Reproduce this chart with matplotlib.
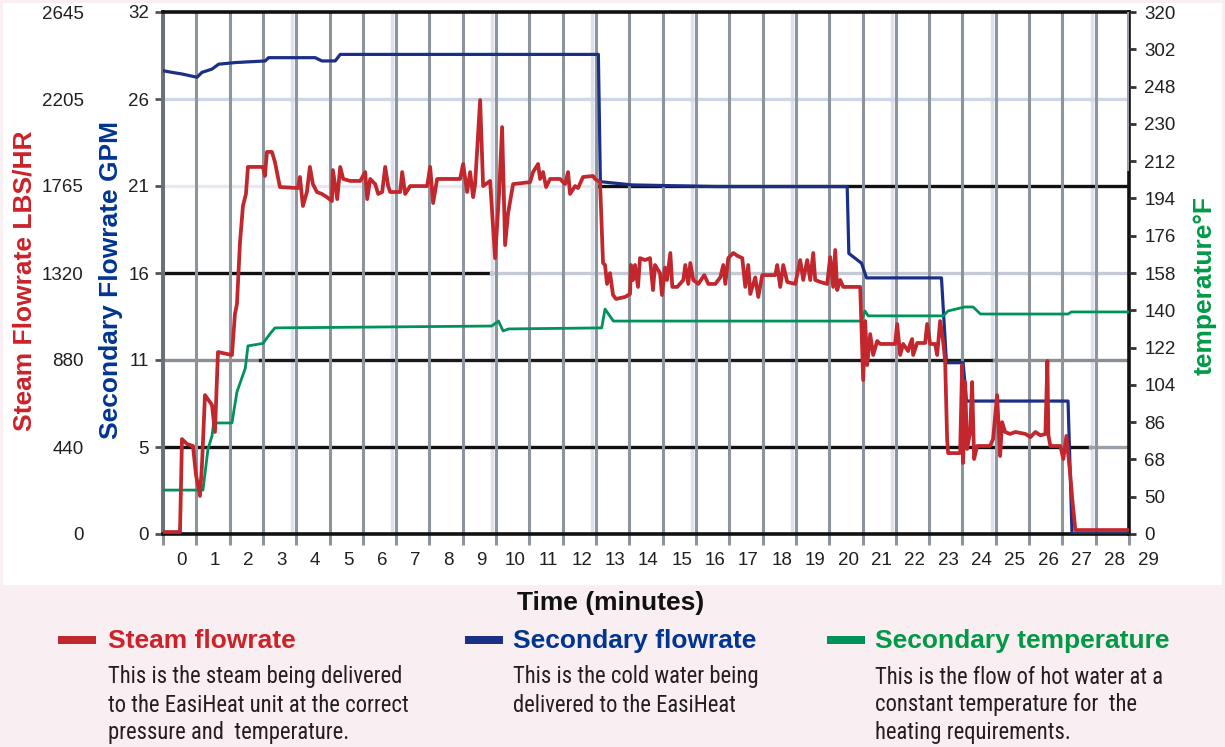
import matplotlib
matplotlib.use("Agg")
import matplotlib.pyplot as plt
from matplotlib.patches import Rectangle

# ---- data -----------------------------------------------------------------
# time in minutes
steam_t = [-0.57, -0.06, 0.0, 0.15, 0.33, 0.42, 0.54, 0.60, 0.69, 0.90, 0.99, 1.08, 1.50,
           1.59, 1.65, 1.74, 1.83, 1.92, 1.98, 2.43, 2.49, 2.55, 2.70, 2.79, 2.94, 3.48,
           3.54, 3.63, 3.75, 3.84, 3.93, 4.05, 4.20, 4.35, 4.50, 4.53, 4.66, 4.75, 4.84,
           5.05, 5.35, 5.50, 5.56, 5.65, 5.80, 5.89, 6.01, 6.10, 6.19, 6.25, 6.55, 6.61,
           6.70, 6.85, 7.36, 7.45, 7.54, 7.66, 7.90, 8.35, 8.44, 8.56, 8.65, 8.74, 8.80,
           8.95, 9.04, 9.25, 9.40, 9.52, 9.61, 9.70, 9.79, 9.94, 10.45, 10.54, 10.69,
           10.75, 10.84, 10.93, 11.05, 11.35, 11.50, 11.59, 11.65, 11.80, 11.89, 12.04,
           12.34, 12.40, 12.55, 12.64, 12.70, 12.76, 12.85, 12.94, 13.03, 13.30, 13.45,
           13.48, 13.54, 13.60, 13.69, 13.75, 13.90, 14.05, 14.14, 14.20, 14.35, 14.41,
           14.50, 14.56, 14.66, 14.72, 14.87, 15.05, 15.11, 15.20, 15.26, 15.35, 15.50,
           15.68, 15.80, 16.01, 16.16, 16.25, 16.31, 16.40, 16.55, 16.67, 16.82, 16.91,
           17.00, 17.06, 17.21, 17.30, 17.42, 17.66, 17.81, 17.87, 17.96, 18.05, 18.17,
           18.41, 18.56, 18.65, 18.77, 18.86, 18.95, 19.01, 19.16, 19.37, 19.46, 19.55,
           19.61, 19.67, 19.76, 19.85, 20.36, 20.42, 20.45, 20.51, 20.57, 20.66, 20.75,
           20.87, 20.96, 21.11, 21.41, 21.47, 21.56, 21.65, 21.80, 21.86, 21.92, 21.95,
           22.07, 22.31, 22.37, 22.46, 22.61, 22.67, 22.76, 22.86, 22.91, 22.97, 23.00,
           23.36, 23.42, 23.45, 23.51, 23.57, 23.66, 23.72, 23.78, 23.87, 23.96, 24.26,
           24.35, 24.47, 24.56, 24.62, 24.71, 24.86, 25.02, 25.32, 25.47, 25.62, 25.77,
           25.92, 25.98, 26.01, 26.07, 26.37, 26.46, 26.55, 26.67, 26.73, 26.82, 28.44]
steam_lbs = [10, 10, 481, 456, 446, 300, 193, 350, 704, 654, 517, 922, 907,
             1115, 1165, 1474, 1662, 1723, 1860, 1860, 1814, 1936, 1936, 1885, 1758, 1753,
             1809, 1662, 1733, 1860, 1773, 1733, 1723, 1707, 1687, 1844, 1697, 1860, 1799,
             1789, 1789, 1834, 1697, 1799, 1773, 1723, 1733, 1860, 1763, 1733, 1733, 1834,
             1723, 1763, 1763, 1860, 1677, 1799, 1799, 1799, 1875, 1733, 1834, 1707, 1773,
             2199, 1763, 1789, 1398, 1727, 2062, 1464, 1626, 1773, 1783, 1834, 1875,
             1799, 1834, 1758, 1799, 1799, 1773, 1834, 1723, 1763, 1753, 1809,
             1814, 1799, 1783, 1373, 1363, 1267, 1322, 1211, 1191, 1201, 1216,
             1363, 1287, 1363, 1252, 1398, 1388, 1398, 1236, 1363, 1322, 1211,
             1350, 1287, 1424, 1252, 1252, 1287, 1363, 1267, 1373, 1287, 1267,
             1312, 1267, 1267, 1300, 1363, 1267, 1398, 1424, 1410, 1398, 1252,
             1363, 1216, 1300, 1201, 1312, 1312, 1312, 1363, 1252, 1363, 1277,
             1267, 1388, 1287, 1388, 1287, 1424, 1287, 1277, 1267, 1403, 1252,
             1439, 1236, 1287, 1252, 1252, 943, 780, 1079, 856, 1013, 907,
             978, 963, 963, 963, 1064, 907, 963, 927, 963, 988, 907,
             968, 968, 1064, 963, 963, 907, 1079, 963, 877, 481, 410,
             410, 856, 360, 770, 431, 517, 770, 380, 446, 446, 446,
             481, 704, 395, 567, 517, 507, 517, 507, 491, 517, 500,
             507, 877, 500, 446, 446, 380, 497, 294, 172, 20, 20]

flow_t = [-0.57, -0.3, 0.0, 0.45, 0.6, 0.9, 1.1, 1.6, 2.5, 2.6, 4.0, 4.2, 4.6, 4.75,
          12.5, 12.56, 13.5, 16.0, 19.97, 20.02, 20.4, 20.55, 22.8, 22.95, 23.45,
          23.55, 26.6, 26.72, 28.44]
flow_gpm = [28.4, 28.3, 28.2, 28.0, 28.3, 28.5, 28.8, 28.9, 29.0, 29.2, 29.2, 29.0, 29.0, 29.4,
            29.4, 21.6, 21.4, 21.3, 21.3, 17.2, 16.6, 15.7, 15.7, 10.5, 10.5,
            8.15, 8.15, 0.0, 0.0]

temp_t = [-0.57, 0.63, 0.78, 0.90, 0.95, 1.5, 1.65, 1.9, 1.98, 2.43, 2.64, 2.79, 9.3,
          9.5, 9.64, 9.8, 12.6, 12.7, 12.95, 20.4, 20.5, 20.6, 22.85, 23.0, 23.5,
          23.75, 23.97, 26.6, 26.7, 28.44]
temp_f = [53.2, 53.2, 73.0, 79.3, 85.6, 85.6, 100.6, 112.0, 122.8, 124.0, 128.6, 131.5, 132.4,
          134.8, 130.0, 131.0, 131.5, 140.6, 134.8, 134.8, 139.7, 137.3, 137.3, 139.7, 141.6,
          141.6, 138.2, 138.2, 139.2, 139.2]

minute_labels = [str(m) for m in range(30)]
gpm_ticks = [0, 32 / 6, 64 / 6, 16, 128 / 6, 160 / 6, 32]
gpm_labels = ["0", "5", "11", "16", "21", "26", "32"]
steam_ticks = [2645 * k / 6 for k in range(7)]
steam_labels = ["0", "440", "880", "1320", "1765", "2205", "2645"]
temp_ticks = [32 + 18 * k for k in range(15)]
temp_labels = ["0", "50", "68", "86", "104", "122", "140", "158", "176", "194",
               "212", "230", "248", "302", "320"]

RED = "#c1272d"
BLUE = "#1b2f86"
GREEN = "#00925a"
RED_TXT = "#cc2229"
BLUE_TXT = "#003591"
GREEN_TXT = "#009a46"
INK = "#231f20"
PINK = "#f9eef1"
GRID = "#8e949c"

plt.rcParams["font.family"] = ["Liberation Sans", "DejaVu Sans"]

W, H = 1225, 747
fig = plt.figure(figsize=(W / 100, H / 100), dpi=100, facecolor=PINK)


def fx(px):
    return px / W


def fy(py):
    return 1 - py / H


fig.add_artist(Rectangle((fx(3), fy(585)), fx(1219), 582 / H, transform=fig.transFigure,
                         facecolor="white", edgecolor="none", zorder=-1))

ax = fig.add_axes([fx(163), fy(534), fx(1129 - 163), (534 - 12) / H])
ax.set_xlim(-0.57, 28.43)
ax.set_ylim(0, 32)

# vertical grid at minute boundaries, carried a little below the axis
grid_x = [k - 0.57 for k in range(30)]
ax.set_xticks(grid_x, minor=True)
ax.grid(which="minor", axis="x", color=GRID, lw=2.2, zorder=0)
ax.tick_params(axis="x", which="minor", length=8, width=2.2, color=GRID, direction="out")
# faint companion rules beside some of the minute lines
for gx in grid_x[4::3]:
    ax.axvline(gx - 0.12, color="#dde1ee", lw=2.5, zorder=0)
ax.set_xticks(range(29))
ax.set_xticklabels(minute_labels[:29], fontsize=13.5, color=INK)
ax.tick_params(axis="x", which="major", length=0, pad=13)
ax.text(29, -0.0345, minute_labels[29], transform=ax.get_xaxis_transform(),
        ha="center", va="top", fontsize=13.5, color=INK, clip_on=False)

# horizontal level lines
levels = [
    (gpm_ticks[5], "#cfd6e8", 0.0, 1.0),
    (gpm_ticks[4], "#e6e9f2", 0.0, 0.45),
    (gpm_ticks[4], "#111111", 0.45, 1.0),
    (gpm_ticks[3], "#111111", 0.0, 0.34),
    (gpm_ticks[3], "#c5cad6", 0.34, 1.0),
    (gpm_ticks[2], "#8a8f96", 0.0, 0.1),
    (gpm_ticks[2], "#1a1a1a", 0.1, 0.86),
    (gpm_ticks[2], "#8a8f96", 0.86, 1.0),
    (gpm_ticks[1], "#111111", 0.0, 0.96),
    (gpm_ticks[1], "#9aa0a8", 0.96, 1.0),
]
for yv, col, x0, x1 in levels:
    ax.axhline(yv, xmin=x0, xmax=x1, color=col, lw=2.4, zorder=0.5)

ax.set_yticks(gpm_ticks)
ax.set_yticklabels(gpm_labels, fontsize=13.5, color=INK)
ax.tick_params(axis="y", length=6, width=2, color="#555555", pad=4)

for side in ["top", "bottom", "right"]:
    ax.spines[side].set_color("#111111")
    ax.spines[side].set_linewidth(2.6)
ax.spines["left"].set_color("#6a7077")
ax.spines["left"].set_linewidth(2.8)
# upper part of the right-hand rule is grey
ax.axvline(28.43, ymin=0.7, ymax=1.0, color="#9aa0a8", lw=2.8, zorder=2.6)

ax.plot(flow_t, flow_gpm, color=BLUE, lw=2.3, zorder=3)

# temperature on the right-hand scale
ax_t = ax.twinx()
ax_t.set_ylim(32, 284)
ax_t.set_yticks(temp_ticks)
ax_t.set_yticklabels(temp_labels, fontsize=13.5, color=INK)
ax_t.tick_params(axis="y", length=5, width=2, color="#333333", pad=6)
for s in ax_t.spines.values():
    s.set_visible(False)
ax_t.plot(temp_t, temp_f, color=GREEN, lw=2.0, zorder=3)

# steam flow shares the left side, labelled further out
ax_s = ax.twinx()
ax_s.set_ylim(0, 2645)
ax_s.yaxis.set_ticks_position("left")
ax_s.set_yticks(steam_ticks)
ax_s.set_yticklabels(steam_labels, fontsize=13.5, color=INK)
ax_s.tick_params(axis="y", length=0, pad=57)
for s in ax_s.spines.values():
    s.set_visible(False)
ax_s.plot(steam_t, steam_lbs, color=RED, lw=2.7, zorder=4)

# axis titles
fig.text(fx(25), fy(281), "Steam Flowrate LBS/HR", rotation=90, ha="center", va="center",
         fontsize=19, fontweight="bold", color=RED_TXT)
fig.text(fx(111), fy(280), "Secondary Flowrate GPM", rotation=90, ha="center", va="center",
         fontsize=19, fontweight="bold", color=BLUE_TXT)
fig.text(fx(1205), fy(285), "temperature°F", rotation=90, ha="center", va="center",
         fontsize=19, fontweight="bold", color=GREEN_TXT)
fig.text(fx(611), fy(603), "Time (minutes)", ha="center", va="center",
         fontsize=19, fontweight="bold", color="#111111")

# key underneath
key = [
    (58, 108, RED, RED_TXT, "Steam flowrate",
     ["This is the steam being delivered", "to the EasiHeat unit at the correct",
      "pressure and  temperature."]),
    (465, 513, BLUE, BLUE_TXT, "Secondary flowrate",
     ["This is the cold water being", "delivered to the EasiHeat"]),
    (827, 875, GREEN, GREEN_TXT, "Secondary temperature",
     ["This is the flow of hot water at a", "constant temperature for  the",
      "heating requirements."]),
]
for sx, tx, col, tcol, title, lines in key:
    fig.add_artist(Rectangle((fx(sx), fy(644)), fx(38), 8 / H, transform=fig.transFigure,
                             facecolor=col, edgecolor="none"))
    fig.text(fx(tx), fy(641), title, ha="left", va="center", fontsize=19,
             fontweight="bold", color=tcol)
    for i, line in enumerate(lines):
        fig.text(fx(tx), fy(677 + 28 * i), line, ha="left", va="center", fontsize=16.3,
                 color=INK, family=["Roboto Condensed", "Liberation Sans"])

fig.savefig("out.png", dpi=100, facecolor=PINK)
